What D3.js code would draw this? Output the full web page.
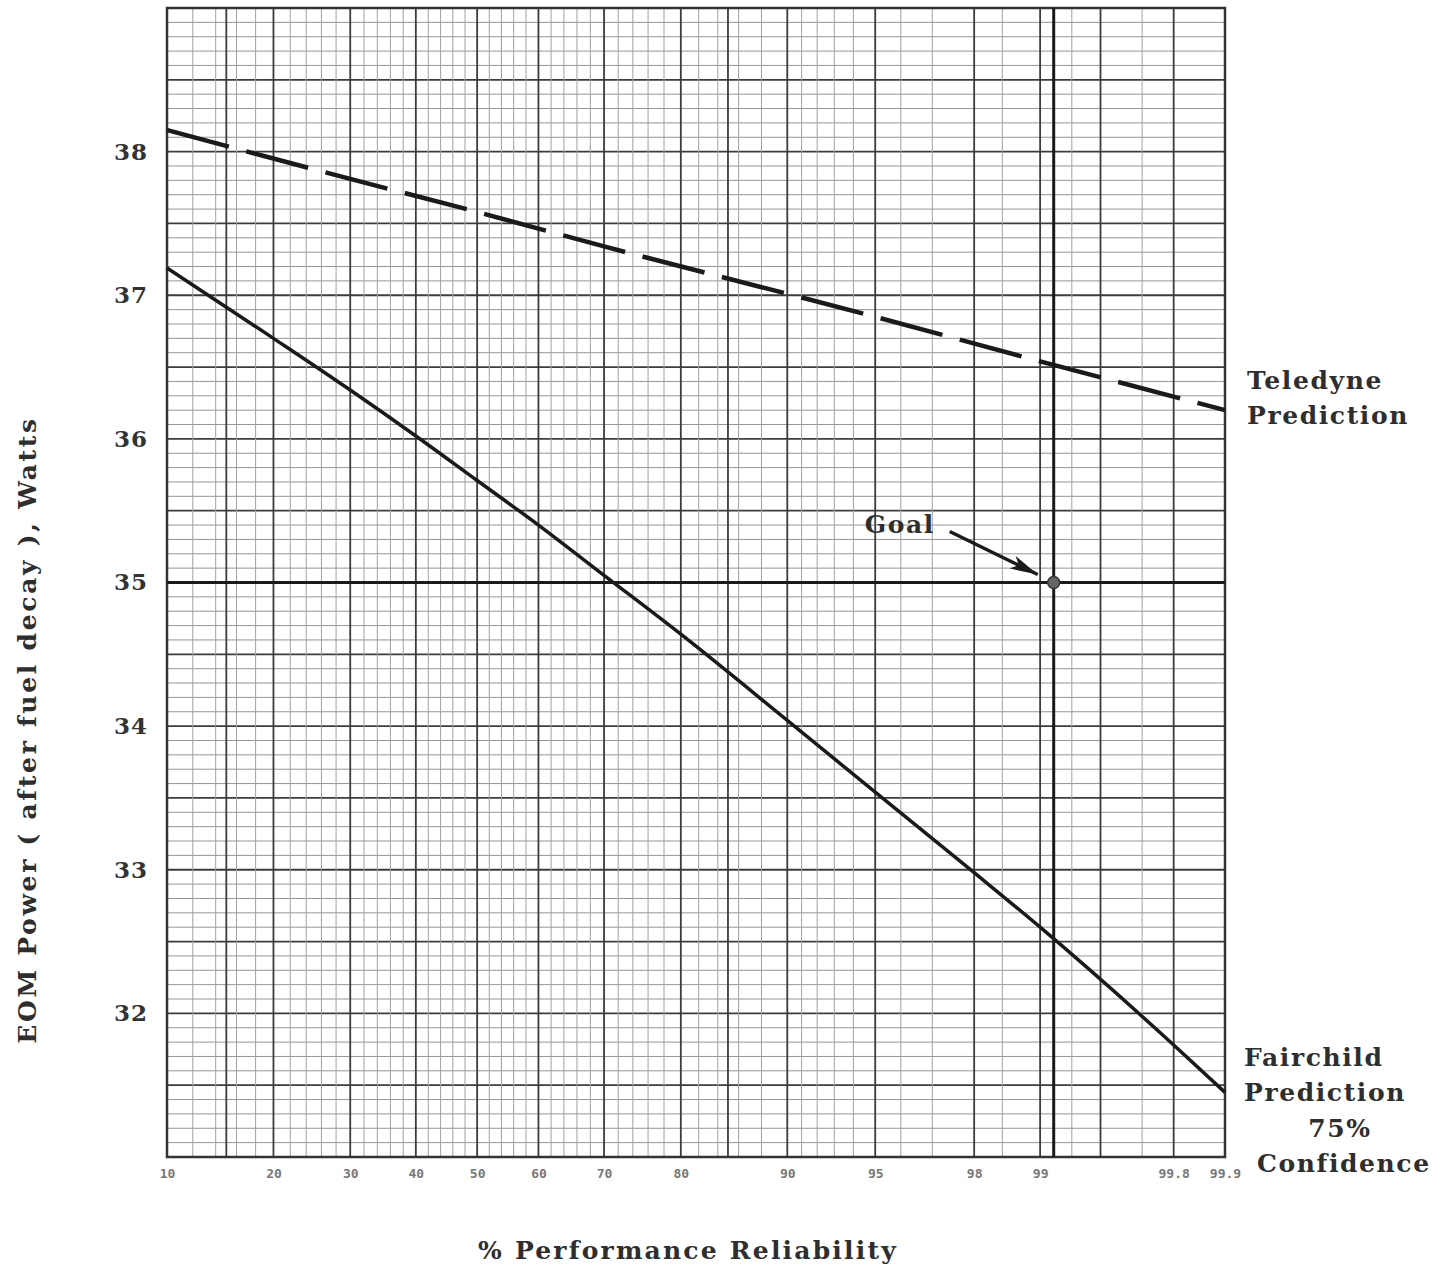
<!DOCTYPE html>
<html>
<head>
<meta charset="utf-8">
<script src="https://cdn.jsdelivr.net/npm/d3@7"></script>
<style>
  body { margin: 0; background: #fff; }
  svg text { font-family: "DejaVu Serif", "Liberation Serif", serif; }
</style>
</head>
<body>
<svg id="chart" width="1446" height="1268"></svg>
<script>
// probability-paper axis: % reliability, normal (probit) spacing
var tickPcts = [10, 20, 30, 40, 50, 60, 70, 80, 90, 95, 98, 99, 99.8, 99.9]
  , majorPcts = [10, 15, 20, 30, 40, 50, 60, 70, 80, 85, 90, 95, 98, 99, 99.5, 99.8, 99.9]
  , minorPcts = [12, 14, 16, 18, 22, 24, 26, 28, 32, 34, 36, 38, 42, 44, 46, 48,
                 52, 54, 56, 58, 62, 64, 66, 68, 72, 74, 76, 78, 82, 84, 86, 88,
                 91, 92, 93, 94, 96, 97, 98.5, 99.3, 99.7]
  , powerTicks = [32, 33, 34, 35, 36, 37, 38]

// Fairchild prediction, 75% confidence (solid)
var fairchildPcts = [10, 20, 30, 40, 50, 60, 70, 80, 90, 95, 98, 99, 99.8, 99.9]
  , fairchildPower = [37.19, 36.70, 36.34, 36.02, 35.71, 35.40, 35.05, 34.64, 34.04, 33.54, 32.98, 32.60, 31.78, 31.45]

// Teledyne prediction (dashed)
var teledynePcts = [10, 30, 50, 70, 90, 95, 99, 99.9]
  , teledynePower = [38.15, 37.81, 37.58, 37.34, 37.01, 36.85, 36.54, 36.2]

var goalPct = 99.14
  , goalPower = 35

// inverse normal cdf (Acklam)
function probit(p) {
  var a = [-39.69683028665376, 220.9460984245205, -275.9285104469687, 138.3577518672690, -30.66479806614716, 2.506628277459239]
    , b = [-54.47609879822406, 161.5858368580409, -155.6989798598866, 66.80131188771972, -13.28068155288572]
    , c = [-0.007784894002430293, -0.3223964580411365, -2.400758277161838, -2.549732539343734, 4.374664141464968, 2.938163982698783]
    , d = [0.007784695709041462, 0.3224671290700398, 2.445134137142996, 3.754408661907416]
    , q, r
  if (p < 0.02425) {
    q = Math.sqrt(-2 * Math.log(p))
    return (((((c[0]*q+c[1])*q+c[2])*q+c[3])*q+c[4])*q+c[5]) / ((((d[0]*q+d[1])*q+d[2])*q+d[3])*q+1)
  }
  if (p > 1 - 0.02425) {
    q = Math.sqrt(-2 * Math.log(1 - p))
    return -(((((c[0]*q+c[1])*q+c[2])*q+c[3])*q+c[4])*q+c[5]) / ((((d[0]*q+d[1])*q+d[2])*q+d[3])*q+1)
  }
  q = p - 0.5
  r = q * q
  return (((((a[0]*r+a[1])*r+a[2])*r+a[3])*r+a[4])*r+a[5])*q / (((((b[0]*r+b[1])*r+b[2])*r+b[3])*r+b[4])*r+1)
}

var svg = d3.select('svg#chart')
  , plotL = 167, plotR = 1225, plotT = 8, plotB = 1157

var x = d3.scaleLinear().domain([probit(0.10), probit(0.999)]).range([plotL, plotR])
  , y = d3.scaleLinear().domain([31, 39]).range([plotB, plotT])
  , xp = function(pct) { return x(probit(pct / 100)) }

var isHalf = function(v) { return Math.abs(v * 2 - Math.round(v * 2)) < 1e-6 }

// paper grid
var grid = svg.append('g').attr('class', 'grid')

grid.selectAll('line.hfine').data(d3.range(311, 390).map(function(v) { return v / 10 }))
  .enter().append('line').attr('class', 'hfine')
  .attr('x1', plotL).attr('x2', plotR)
  .attr('y1', function(v) { return y(v) }).attr('y2', function(v) { return y(v) })
  .attr('stroke', function(v) { return isHalf(v) ? '#3c3c3c' : '#959595' })
  .attr('stroke-width', function(v) { return isHalf(v) ? 1.8 : 1 })

grid.selectAll('line.vminor').data(minorPcts)
  .enter().append('line').attr('class', 'vminor')
  .attr('y1', plotT).attr('y2', plotB)
  .attr('x1', xp).attr('x2', xp)
  .attr('stroke', '#a0a0a0').attr('stroke-width', 1)

grid.selectAll('line.vmajor').data(majorPcts)
  .enter().append('line').attr('class', 'vmajor')
  .attr('y1', plotT).attr('y2', plotB)
  .attr('x1', xp).attr('x2', xp)
  .attr('stroke', '#3c3c3c').attr('stroke-width', 1.8)

svg.append('rect')
  .attr('x', plotL).attr('y', plotT)
  .attr('width', plotR - plotL).attr('height', plotB - plotT)
  .attr('fill', 'none').attr('stroke', '#333').attr('stroke-width', 2.5)

// axes
var yAxis = svg.append('g')
  .attr('transform', 'translate(' + plotL + ',0)')
  .call(d3.axisLeft(y).tickValues(powerTicks).tickSize(0).tickPadding(19).tickFormat(d3.format('d')))
yAxis.select('.domain').remove()
yAxis.selectAll('text')
  .style('font-family', '"DejaVu Serif", serif')
  .style('font-size', '23px').style('font-weight', 'bold').style('letter-spacing', '1px')
  .attr('fill', '#333')

var xAxis = svg.append('g')
  .attr('transform', 'translate(0,' + plotB + ')')
  .call(d3.axisBottom(x)
    .tickValues(tickPcts.map(function(p) { return probit(p / 100) }))
    .tickSize(0).tickPadding(12)
    .tickFormat(function(z, i) { return tickPcts[i] }))
xAxis.select('.domain').remove()
xAxis.selectAll('text')
  .style('font-family', '"DejaVu Sans Mono", monospace')
  .style('font-size', '13px').style('font-weight', 'bold').attr('fill', '#777')

var textStyle = function(sel) {
  sel.style('font-size', '25px').style('font-weight', 'bold')
    .style('letter-spacing', '1.6px').attr('fill', '#2e2e2e')
}

svg.append('text')
  .attr('x', 688).attr('y', 1259).attr('text-anchor', 'middle')
  .call(textStyle).style('letter-spacing', '2.2px')
  .text('% Performance Reliability')

svg.append('text')
  .attr('transform', 'translate(36,730) rotate(-90)').attr('text-anchor', 'middle')
  .call(textStyle).style('letter-spacing', '2.7px')
  .text('EOM Power ( after fuel decay ), Watts')

// goal cross hairs
var gx = xp(goalPct), gy = y(goalPower)
svg.append('line')
  .attr('x1', plotL).attr('x2', plotR).attr('y1', gy).attr('y2', gy)
  .attr('stroke', '#1a1a1a').attr('stroke-width', 3)
svg.append('line')
  .attr('x1', gx).attr('x2', gx).attr('y1', plotT).attr('y2', plotB)
  .attr('stroke', '#1a1a1a').attr('stroke-width', 3)

// prediction lines
var line = d3.line()
  .x(function(d) { return xp(d[0]) })
  .y(function(d) { return y(d[1]) })
  .curve(d3.curveMonotoneX)

svg.append('path')
  .datum(d3.zip(teledynePcts, teledynePower))
  .attr('d', line)
  .attr('fill', 'none').attr('stroke', '#1a1a1a').attr('stroke-width', 4.5)
  .attr('stroke-dasharray', '64,18')

svg.append('path')
  .datum(d3.zip(fairchildPcts, fairchildPower))
  .attr('d', line)
  .attr('fill', 'none').attr('stroke', '#1a1a1a').attr('stroke-width', 3.5)

svg.append('circle')
  .attr('cx', gx).attr('cy', gy).attr('r', 6)
  .attr('fill', '#666').attr('stroke', '#333').attr('stroke-width', 1.5)

// goal arrow
svg.append('defs').append('marker')
  .attr('id', 'head').attr('viewBox', '0 0 20 10')
  .attr('refX', 20).attr('refY', 5)
  .attr('markerWidth', 28).attr('markerHeight', 14)
  .attr('markerUnits', 'userSpaceOnUse').attr('orient', 'auto')
  .append('path').attr('d', 'M0,0 L20,5 L0,10 L5,5 Z').attr('fill', '#1a1a1a')
svg.append('line')
  .attr('x1', gx - 104).attr('y1', gy - 51)
  .attr('x2', gx - 16).attr('y2', gy - 8)
  .attr('stroke', '#1a1a1a').attr('stroke-width', 3.5)
  .attr('marker-end', 'url(#head)')

svg.append('text')
  .attr('x', gx - 189).attr('y', gy - 50)
  .call(textStyle)
  .text('Goal')

// series labels
var labels = [
  {text: 'Teledyne', x: 1247, y: 389, anchor: 'start'},
  {text: 'Prediction', x: 1247, y: 424, anchor: 'start'},
  {text: 'Fairchild', x: 1244, y: 1066, anchor: 'start'},
  {text: 'Prediction', x: 1244, y: 1101, anchor: 'start'},
  {text: '75%', x: 1340, y: 1137, anchor: 'middle'},
  {text: 'Confidence', x: 1257, y: 1172, anchor: 'start'}
]
svg.selectAll('text.series').data(labels)
  .enter().append('text').attr('class', 'series')
  .attr('x', function(d) { return d.x }).attr('y', function(d) { return d.y })
  .attr('text-anchor', function(d) { return d.anchor })
  .call(textStyle)
  .text(function(d) { return d.text })
</script>
</body>
</html>
